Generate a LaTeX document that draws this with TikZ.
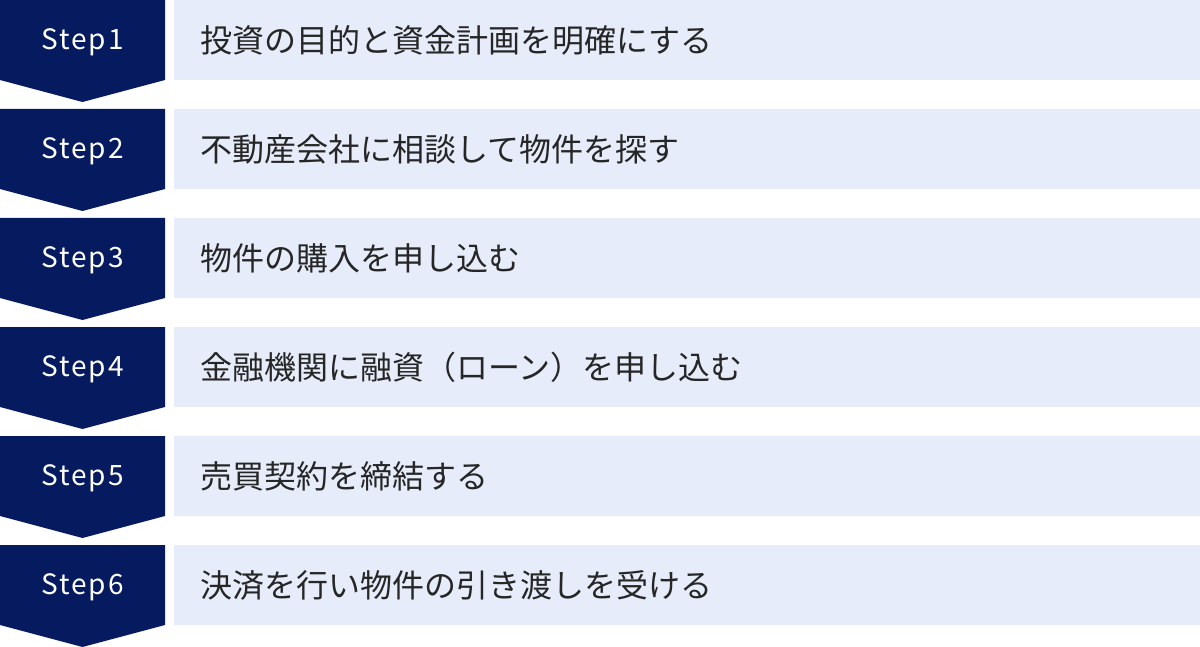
\documentclass[tikz,border=0pt]{standalone}
\usepackage{fontspec}
\setmainfont{Noto Sans}
\newfontfamily\jpfont{Noto Sans CJK JP}
\newfontfamily\stepfont[LetterSpace=7]{Noto Sans CJK JP}
\definecolor{stepnavy}{HTML}{061A60}
\definecolor{rowblue}{HTML}{E6ECF9}

\tikzset{
  steplabel/.style={text=white,inner sep=0pt,font=\stepfont\fontsize{28}{32}\selectfont},
  tasklabel/.style={anchor=west,inner sep=0pt,text=black!85,font=\jpfont\fontsize{32}{36}\selectfont}
}

\begin{document}
\begin{tikzpicture}[x=1pt,y=-1pt]
    \useasboundingbox (0,0) rectangle (1200,647);
    \foreach \i/\txt in {1/{投資の目的と資金計画を明確にする},
                         2/{不動産会社に相談して物件を探す},
                         3/{物件の購入を申し込む},
                         4/{金融機関に融資（ローン）を申し込む},
                         5/{売買契約を締結する},
                         6/{決済を行い物件の引き渡しを受ける}} {
        \pgfmathsetmacro{\rowtop}{(\i-1)*109}
        % chevron and bar
        \fill [stepnavy] (0,\rowtop) -- (165,\rowtop) -- (165,\rowtop+80) -- (82.5,\rowtop+102) -- (0,\rowtop+80) -- cycle;
        \fill [rowblue] (174,\rowtop) rectangle (1200,\rowtop+80);

        \node [steplabel] (step\i) at (82.5,\rowtop+42) {Step\i};
        \node [tasklabel] (task\i) at (200,\rowtop+40) {\txt};
    }
\end{tikzpicture}
\end{document}
